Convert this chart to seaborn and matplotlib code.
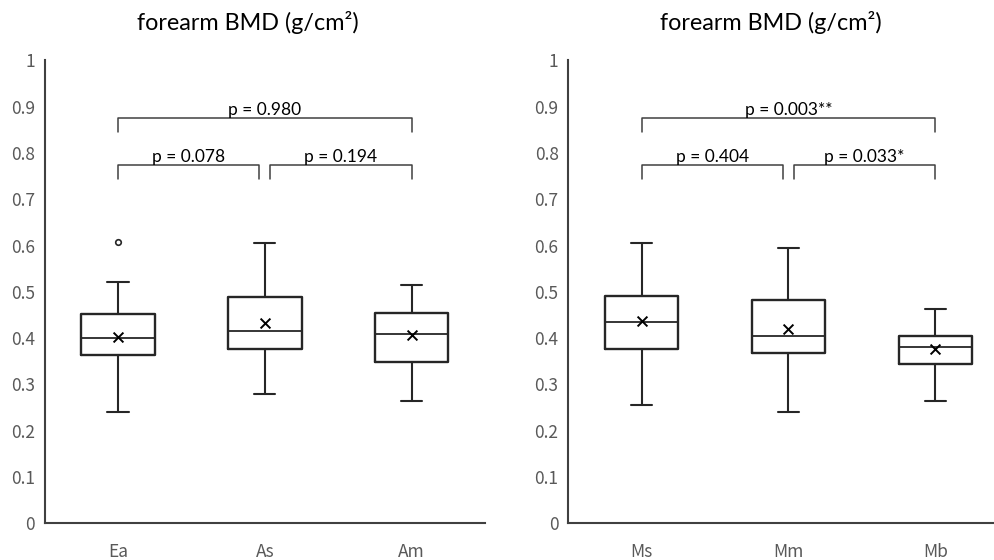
import numpy as np
import pandas as pd
import matplotlib.pyplot as plt
import seaborn as sns

# Data

left_groups = ["Ea", "As", "Am"]
left_whislo = [0.241, 0.280, 0.264]
left_q1 = [0.364, 0.377, 0.349]
left_med = [0.401, 0.415, 0.409]
left_q3 = [0.453, 0.488, 0.455]
left_whishi = [0.522, 0.606, 0.514]
left_mean = [0.403, 0.432, 0.406]
left_fliers = [[0.607], [], []]
left_pvals = ["p = 0.078", "p = 0.194", "p = 0.980"]

right_groups = ["Ms", "Mm", "Mb"]
right_whislo = [0.256, 0.241, 0.264]
right_q1 = [0.376, 0.368, 0.344]
right_med = [0.434, 0.404, 0.381]
right_q3 = [0.491, 0.483, 0.404]
right_whishi = [0.606, 0.595, 0.463]
right_mean = [0.437, 0.420, 0.376]
right_fliers = [[], [], []]
right_pvals = ["p = 0.404", "p = 0.033*", "p = 0.003**"]

pairs = [(0, 1), (1, 2), (0, 2)]
pair_levels = [0.774, 0.774, 0.876]

y_ticks = [0, 0.1, 0.2, 0.3, 0.4, 0.5, 0.6, 0.7, 0.8, 0.9, 1.0]
y_ticklabels = ["0", "0.1", "0.2", "0.3", "0.4", "0.5", "0.6", "0.7", "0.8", "0.9", "1"]

title_text = "forearm BMD (g/cm²)"

# Styling

sns.set_style("white")
plt.rcParams['font.family'] = ['Noto Sans CJK JP', 'DejaVu Sans']

LINE = "#262626"
SPINE = "#404040"
TICK = "#595959"


def make_stats(groups, whislo, q1, med, q3, whishi, fliers):
    stats = []
    for i, g in enumerate(groups):
        stats.append(dict(label=g, whislo=whislo[i], q1=q1[i], med=med[i],
                          q3=q3[i], whishi=whishi[i], fliers=fliers[i]))
    return stats


def draw_panel(ax, groups, whislo, q1, med, q3, whishi, means, fliers, pvals):
    stats = make_stats(groups, whislo, q1, med, q3, whishi, fliers)
    pos = np.arange(len(groups))
    ax.bxp(stats, positions=pos, widths=0.5, capwidths=0.145,
           boxprops=dict(color=LINE, linewidth=1.7),
           medianprops=dict(color=LINE, linewidth=1.3),
           whiskerprops=dict(color=LINE, linewidth=1.5),
           capprops=dict(color=LINE, linewidth=1.5),
           flierprops=dict(marker="o", markersize=4, markerfacecolor="white",
                           markeredgecolor=LINE, markeredgewidth=1.2))

    # mean markers
    mdf = pd.DataFrame({"x": pos, "mean": means})
    sns.scatterplot(data=mdf, x="x", y="mean", marker="x", s=50, color="black",
                    linewidth=1.4, ax=ax, zorder=5, legend=False)

    # significance brackets
    for (a, b), lev, txt in zip(pairs, pair_levels, pvals):
        x0, x1 = a, b
        if b - a == 1:
            if a == 0:
                x1 = b - 0.04
            else:
                x0 = a + 0.035
        drop = 0.031
        ax.plot([x0, x0, x1, x1], [lev - drop, lev, lev, lev - drop],
                color=SPINE, linewidth=1.1, clip_on=False)
        ax.text((x0 + x1) / 2, lev + 0.006, txt, ha="center", va="baseline",
                fontsize=12.5, color="black", family=["Lato", "DejaVu Sans"])

    ax.set_xlim(-0.5, 2.5)
    ax.set_ylim(0, 1.0)
    ax.set_xticks(pos)
    ax.set_xticklabels(groups)
    ax.set_yticks(y_ticks)
    ax.set_yticklabels(y_ticklabels)
    ax.set_xlabel("")
    ax.set_ylabel("")
    ax.tick_params(axis="both", length=0, labelsize=12.5, labelcolor=TICK)
    ax.tick_params(axis="y", pad=7)
    ax.tick_params(axis="x", pad=14)
    sns.despine(ax=ax)
    for side in ["left", "bottom"]:
        ax.spines[side].set_color(SPINE)
        ax.spines[side].set_linewidth(1.5)


fig = plt.figure(figsize=(9.95, 5.6), dpi=100)
ax1 = fig.add_axes([0.0449, 0.0655, 0.4425, 0.8265])
ax2 = fig.add_axes([0.5712, 0.0655, 0.4425, 0.8265])

draw_panel(ax1, left_groups, left_whislo, left_q1, left_med, left_q3,
           left_whishi, left_mean, left_fliers, left_pvals)
draw_panel(ax2, right_groups, right_whislo, right_q1, right_med, right_q3,
           right_whishi, right_mean, right_fliers, right_pvals)

fig.text(0.249, 0.959, title_text, ha="center", va="center", fontsize=16.8,
         color="black", family=["Lato", "DejaVu Sans"])
fig.text(0.775, 0.959, title_text, ha="center", va="center", fontsize=16.8,
         color="black", family=["Lato", "DejaVu Sans"])

fig.savefig("out.png", dpi=100)
